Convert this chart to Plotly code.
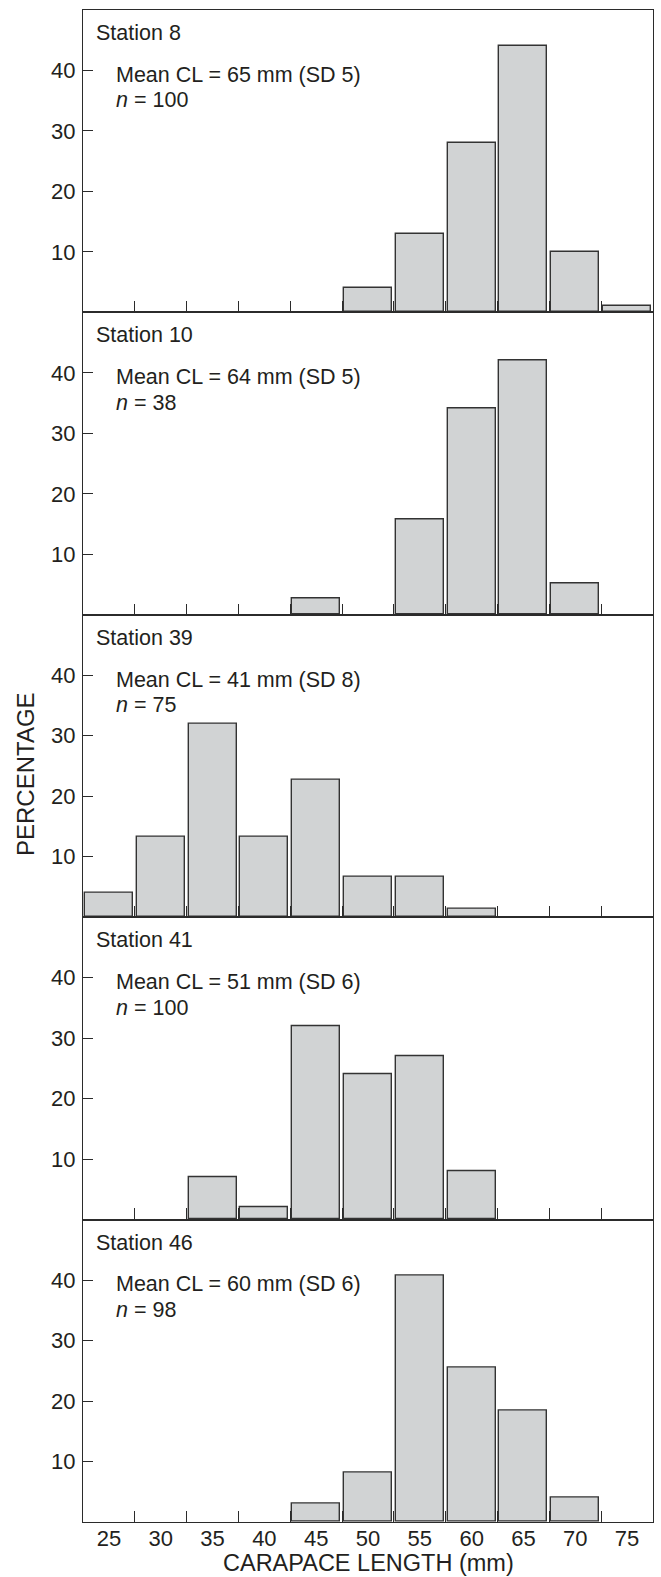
import plotly.graph_objects as go
from plotly.subplots import make_subplots

# ---- data ----
bin_centers = [25, 30, 35, 40, 45, 50, 55, 60, 65, 70, 75]
x_tick_labels = ["25", "30", "35", "40", "45", "50", "55", "60", "65", "70", "75"]
bin_edges_inner = [27.5, 32.5, 37.5, 42.5, 47.5, 52.5, 57.5, 62.5, 67.5, 72.5]
y_ticks = [10, 20, 30, 40]

stations = ["Station 8", "Station 10", "Station 39", "Station 41", "Station 46"]
mean_texts = ["Mean CL = 65 mm (SD 5)", "Mean CL = 64 mm (SD 5)", "Mean CL = 41 mm (SD 8)",
              "Mean CL = 51 mm (SD 6)", "Mean CL = 60 mm (SD 6)"]
n_values = [100, 38, 75, 100, 98]

pct_station8 = [0, 0, 0, 0, 0, 4, 13, 28, 44, 10, 1]
pct_station10 = [0, 0, 0, 0, 2.63, 0, 15.79, 34.21, 42.11, 5.26, 0]
pct_station39 = [4.0, 13.33, 32.0, 13.33, 22.67, 6.67, 6.67, 1.33, 0, 0, 0]
pct_station41 = [0, 0, 7, 2, 32, 24, 27, 8, 0, 0, 0]
pct_station46 = [0, 0, 0, 0, 3.06, 8.16, 40.82, 25.51, 18.37, 4.08, 0]
all_pcts = [pct_station8, pct_station10, pct_station39, pct_station41, pct_station46]

# ---- style ----
FONT = "Liberation Sans, Arial, Helvetica, sans-serif"
TXT = "#231f20"
AX = "#2b2b2b"
BAR_FILL = "#d1d3d4"
BAR_LINE = "#333333"

fig = make_subplots(rows=5, cols=1, vertical_spacing=0, shared_xaxes=False)

for i, pcts in enumerate(all_pcts):
    xs = [c for c, p in zip(bin_centers, pcts) if p > 0]
    ys = [p for p in pcts if p > 0]
    fig.add_trace(go.Bar(x=xs, y=ys, width=4.63,
                         marker=dict(color=BAR_FILL, line=dict(color=BAR_LINE, width=1.4)),
                         showlegend=False, hoverinfo="skip"), row=i + 1, col=1)
    last = (i == 4)
    fig.update_xaxes(range=[22.5, 77.5], tickmode="array", tickvals=bin_centers,
                     ticktext=x_tick_labels, ticks="", showticklabels=last,
                     tickfont=dict(family=FONT, size=22, color=TXT),
                     ticklabelstandoff=-4,
                     showline=True, linecolor=AX, linewidth=1.4, mirror=True,
                     showgrid=False, zeroline=False,
                     minor=dict(tickmode="array", tickvals=bin_edges_inner, ticks="inside",
                                ticklen=11, tickwidth=1.3, tickcolor=AX, showgrid=False),
                     row=i + 1, col=1)
    fig.update_yaxes(range=[0, 50], tickmode="array", tickvals=y_ticks,
                     ticks="inside", ticklen=10, tickwidth=1.3, tickcolor=AX,
                     tickfont=dict(family=FONT, size=22, color=TXT),
                     ticklabelstandoff=2,
                     showline=True, linecolor=AX, linewidth=1.4, mirror=True,
                     showgrid=False, zeroline=False, row=i + 1, col=1)
    xa = "x" if i == 0 else f"x{i+1}"
    ya = "y" if i == 0 else f"y{i+1}"
    fig.add_annotation(text=stations[i], xref=f"{xa} domain", yref=f"{ya} domain",
                       x=0.019, y=0.924, xanchor="left", yanchor="middle", showarrow=False,
                       font=dict(family=FONT, size=21.5, color=TXT))
    fig.add_annotation(text=mean_texts[i], xref=f"{xa} domain", yref=f"{ya} domain",
                       x=0.055, y=0.786, xanchor="left", yanchor="middle", showarrow=False,
                       font=dict(family=FONT, size=21.5, color=TXT))
    fig.add_annotation(text=f"<i>n</i> = {n_values[i]}", xref=f"{xa} domain", yref=f"{ya} domain",
                       x=0.055, y=0.701, xanchor="left", yanchor="middle", showarrow=False,
                       font=dict(family=FONT, size=21.5, color=TXT))

fig.add_annotation(text="PERCENTAGE", xref="paper", yref="paper", x=-0.101, y=0.495,
                   textangle=-90, xanchor="center", yanchor="middle", showarrow=False,
                   font=dict(family=FONT, size=24, color=TXT))
fig.add_annotation(text="CARAPACE LENGTH (mm)", xref="paper", yref="paper", x=0.5, y=-0.0272,
                   xanchor="center", yanchor="middle", showarrow=False,
                   font=dict(family=FONT, size=23.5, color=TXT))

fig.update_layout(width=661, height=1577,
                  margin=dict(l=83, r=8, t=10, b=55),
                  plot_bgcolor="white", paper_bgcolor="white", bargap=0,
                  showlegend=False)

fig.write_html("out.html", config={"displayModeBar": False},
               post_script="document.body.style.margin='0';document.body.style.overflow='hidden';")
